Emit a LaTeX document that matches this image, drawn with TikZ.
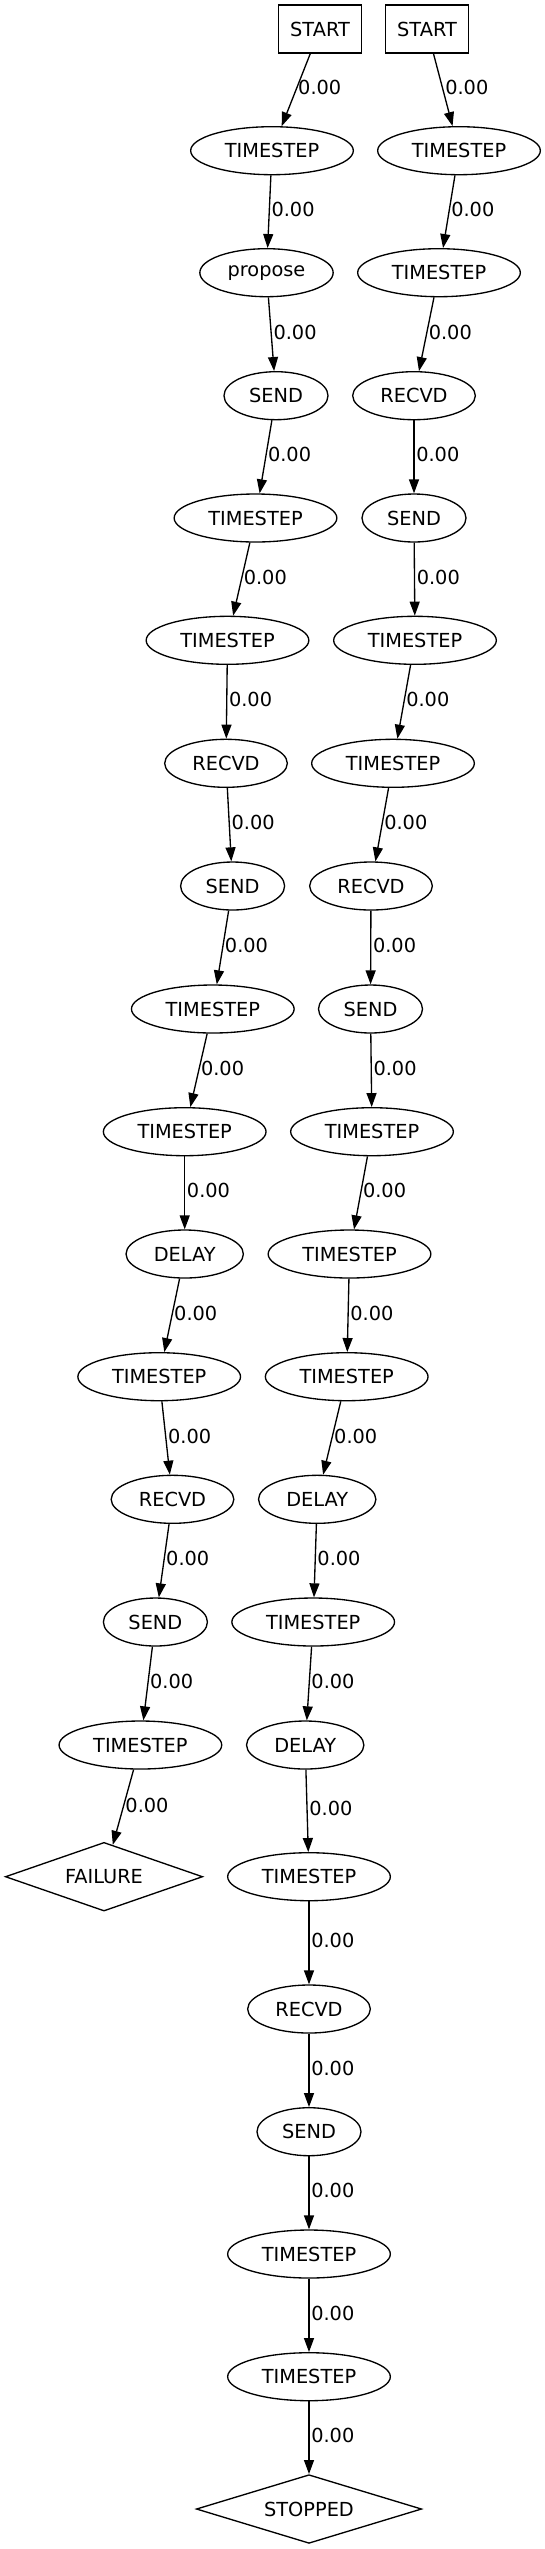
\documentclass[tikz,border=0pt]{standalone}
\usepackage{fontspec}
\setmainfont{DejaVu Sans}
\usetikzlibrary{shapes.geometric,arrows.meta}
\begin{document}
\begin{tikzpicture}[x=0.75pt,y=-0.75pt,
  every node/.style={font=\fontsize{14.5pt}{16pt}\selectfont, text=black},
  base/.style={draw=black, line width=1pt, inner sep=0pt, minimum height=36pt},
  startbox/.style={base, rectangle, minimum width=62pt},
  ell/.style={base, ellipse},
  tsn/.style={ell, minimum width=122pt},
  prop/.style={ell, minimum width=100pt},
  sendn/.style={ell, minimum width=78pt},
  recv/.style={ell, minimum width=92pt},
  dly/.style={ell, minimum width=88pt},
  dia/.style={base, diamond, aspect=2.9, minimum height=51.5pt},
  conn/.style={draw=black, line width=1pt, -{Triangle[length=10.5pt,width=7.5pt]}},
  lbl/.style={midway, anchor=west, inner sep=0pt, xshift=1.2pt, yshift=1.5pt}
]
\useasboundingbox (0,0) rectangle (544,2549);
% left column
\node[startbox] (a0) at (320,29) {START};
\node[tsn] (a1) at (272,150.7) {TIMESTEP};
\node[prop] (a2) at (266.5,272.7) {propose};
\node[sendn] (a3) at (276,395.7) {SEND};
\node[tsn] (a4) at (255.5,518) {TIMESTEP};
\node[tsn] (a5) at (227.5,640.3) {TIMESTEP};
\node[recv] (a6) at (226,763.3) {RECVD};
\node[sendn] (a7) at (232.6,886) {SEND};
\node[tsn] (a8) at (212.8,1009) {TIMESTEP};
\node[tsn] (a9) at (184.7,1131.7) {TIMESTEP};
\node[dly] (a10) at (184.7,1254) {DELAY};
\node[tsn] (a11) at (159.2,1376.7) {TIMESTEP};
\node[recv] (a12) at (172.5,1499.3) {RECVD};
\node[sendn] (a13) at (155.4,1622) {SEND};
\node[tsn] (a14) at (140.4,1745) {TIMESTEP};
\node[dia, minimum width=148pt] (a15) at (104,1876.7) {FAILURE};
% right column
\node[startbox] (b0) at (427,29) {START};
\node[tsn] (b1) at (459,150.7) {TIMESTEP};
\node[tsn] (b2) at (439,272.7) {TIMESTEP};
\node[recv] (b3) at (414,395.7) {RECVD};
\node[sendn] (b4) at (414,518) {SEND};
\node[tsn] (b5) at (415,640.3) {TIMESTEP};
\node[tsn] (b6) at (393,763.3) {TIMESTEP};
\node[recv] (b7) at (371,886) {RECVD};
\node[sendn] (b8) at (370.5,1009) {SEND};
\node[tsn] (b9) at (372,1131.7) {TIMESTEP};
\node[tsn] (b10) at (349.5,1254) {TIMESTEP};
\node[tsn] (b11) at (346.7,1376.7) {TIMESTEP};
\node[dly] (b12) at (317.2,1499.3) {DELAY};
\node[tsn] (b13) at (313.2,1622) {TIMESTEP};
\node[dly] (b14) at (305.2,1745) {DELAY};
\node[tsn] (b15) at (309,1876.7) {TIMESTEP};
\node[recv] (b16) at (309,2009) {RECVD};
\node[sendn] (b17) at (309,2131.7) {SEND};
\node[tsn] (b18) at (309,2254) {TIMESTEP};
\node[tsn] (b19) at (309,2376.7) {TIMESTEP};
\node[dia, minimum width=169pt] (b20) at (309,2509) {STOPPED};
% edges
\foreach \i [evaluate=\i as \j using int(\i+1)] in {0,...,14} {
  \draw[conn] (a\i) -- node[lbl] {0.00} (a\j);
}
\foreach \i [evaluate=\i as \j using int(\i+1)] in {0,...,19} {
  \draw[conn] (b\i) -- node[lbl] {0.00} (b\j);
}
\end{tikzpicture}
\end{document}
